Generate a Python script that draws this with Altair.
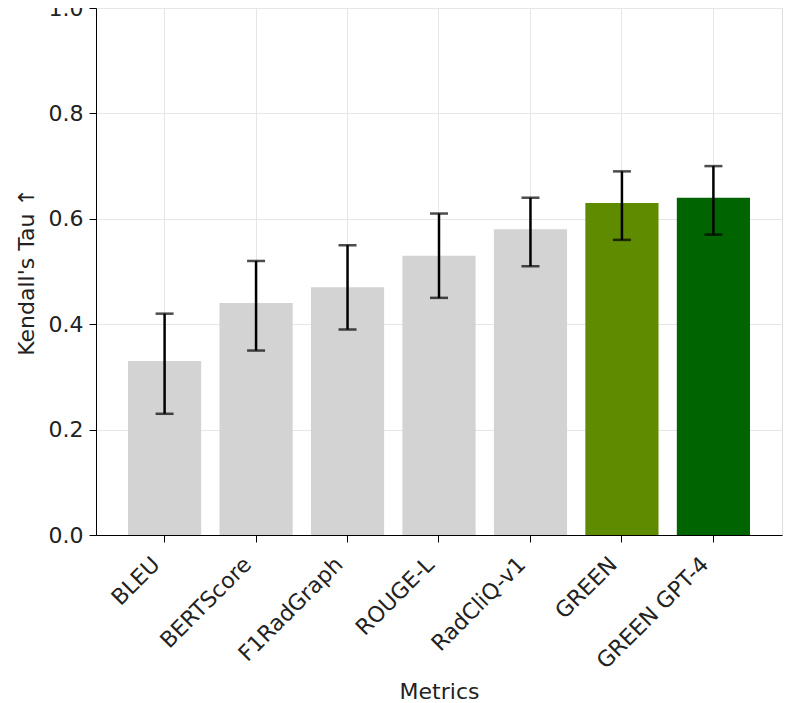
import altair as alt
import pandas as pd

metrics = ["BLEU", "BERTScore", "F1RadGraph", "ROUGE-L", "RadCliQ-v1", "GREEN", "GREEN GPT-4"]
tau = [0.33, 0.44, 0.47, 0.53, 0.58, 0.63, 0.64]
low = [0.23, 0.35, 0.39, 0.45, 0.51, 0.56, 0.57]
high = [0.42, 0.52, 0.55, 0.61, 0.64, 0.69, 0.70]
colors = ["#d3d3d3", "#d3d3d3", "#d3d3d3", "#d3d3d3", "#d3d3d3", "#5e8b00", "#006400"]

df = pd.DataFrame({"metric": metrics, "tau": tau, "low": low, "high": high, "color": colors})

FONT = "DejaVu Sans"
FS = 22
xscale = alt.Scale(domain=metrics, paddingInner=0.2, paddingOuter=0.35)
xenc = alt.X("metric:N", sort=metrics, scale=xscale,
             axis=alt.Axis(title="Metrics", labelAngle=-45, labelAlign="right", labelBaseline="bottom",
                           grid=True, gridColor="#e6e6e6", domainColor="black", tickColor="black",
                           tickSize=7, labelFontSize=FS, titleFontSize=FS, titlePadding=9,
                           labelColor="#222222", titleColor="#222222", labelFont=FONT, titleFont=FONT,
                           titleFontWeight="normal", labelPadding=27))
yscale = alt.Scale(domain=[0, 1], nice=False)

bars = alt.Chart(df).mark_bar().encode(
    x=xenc,
    y=alt.Y("tau:Q", scale=yscale,
            axis=alt.Axis(title="Kendall's Tau ↑", values=[0, 0.2, 0.4, 0.6, 0.8, 1.0], format=".1f",
                          grid=True, gridColor="#e6e6e6", domainColor="black", tickColor="black",
                          tickSize=7, labelFontSize=FS, titleFontSize=FS, labelColor="#222222",
                          titleColor="#222222", labelFont=FONT, titleFont=FONT, titleFontWeight="normal",
                          titlePadding=10, labelPadding=6)),
    color=alt.Color("color:N", scale=None),
)

rules = alt.Chart(df).mark_rule(color="black", strokeWidth=2.5).encode(
    x=alt.X("metric:N", sort=metrics, scale=xscale),
    y=alt.Y("low:Q", scale=yscale),
    y2="high:Q",
)
cap_lo = alt.Chart(df).mark_tick(color="black", thickness=2.5, size=18, orient="horizontal").encode(
    x=alt.X("metric:N", sort=metrics, scale=xscale),
    y=alt.Y("low:Q", scale=yscale),
)
cap_hi = alt.Chart(df).mark_tick(color="black", thickness=2.5, size=18, orient="horizontal").encode(
    x=alt.X("metric:N", sort=metrics, scale=xscale),
    y=alt.Y("high:Q", scale=yscale),
)

chart = alt.layer(bars, rules, cap_lo, cap_hi).properties(
    width=686, height=527,
    autosize=alt.AutoSizeParams(type="none"),
    padding={"left": 88, "top": 0, "right": 1, "bottom": 172},
).configure_view(stroke="black", strokeWidth=1.5).configure(background="white")

chart.save("out.html", embed_options={"renderer": "svg", "actions": False})
